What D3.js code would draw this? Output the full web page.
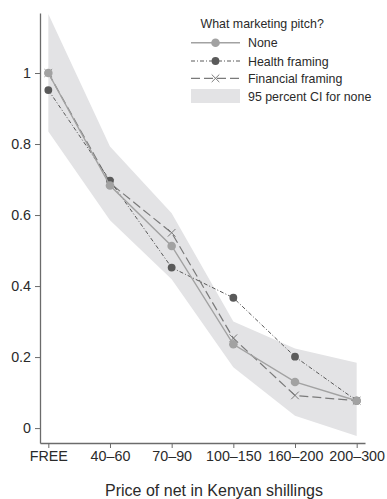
<!DOCTYPE html>
<html>
<head>
<meta charset="utf-8">
<script src="https://cdn.jsdelivr.net/npm/d3@7"></script>
<style>
  html, body { margin: 0; padding: 0; background: #fff; }
  svg { display: block; font-family: "Liberation Sans", Arial, Helvetica, sans-serif; }
</style>
</head>
<body>
<svg id="chart" width="387" height="499"></svg>
<script>
// Price categories on the x axis
const priceBands = ["FREE", "40\u201360", "70\u201390", "100\u2013150", "160\u2013200", "200\u2013300"];

// Take-up share by marketing pitch
const noneTakeup      = [1.00, 0.683, 0.513, 0.236, 0.130, 0.077];
const healthTakeup    = [0.952, 0.697, 0.452, 0.367, 0.201, 0.077];
const financialTakeup = [1.00, 0.690, 0.550, 0.253, 0.092, 0.077];

// 95 percent confidence interval for the "None" group
const ciLower = [0.835, 0.585, 0.419, 0.171, 0.035, -0.022];
const ciUpper = [1.166, 0.793, 0.605, 0.300, 0.224, 0.184];

const yTickValues = [0, 0.2, 0.4, 0.6, 0.8, 1];
const yTickLabels = ["0", "0.2", "0.4", "0.6", "0.8", "1"];

const legendTitle = "What marketing pitch?";
const seriesNames = ["None", "Health framing", "Financial framing", "95 percent CI for none"];
const xTitle = "Price of net in Kenyan shillings";

const svg = d3.select("#chart");

const x = d3.scalePoint().domain(priceBands).range([40, 365]).padding(0.135);
const y = d3.scaleLinear().domain([-0.042, 1.169]).range([443, 13]);

const axisColor = "#6b6b6b";
const textColor = "#2a2a2a";

// Confidence band
const bandData = priceBands.map((c, i) => ({ c, lo: ciLower[i], hi: ciUpper[i] }));
svg.append("path")
  .datum(bandData)
  .attr("fill", "#e3e3e5")
  .attr("d", d3.area().x(d => x(d.c)).y0(d => y(d.lo)).y1(d => y(d.hi)));

// Series definitions
const series = [
  { name: seriesNames[0], values: noneTakeup, stroke: "#a2a2a2", width: 1.4, dash: null, marker: "circle", mfill: "#a2a2a2", r: 4.3 },
  { name: seriesNames[1], values: healthTakeup, stroke: "#5a5a5a", width: 1.0, dash: "4,2,1,2", marker: "circle", mfill: "#5a5a5a", r: 3.9 },
  { name: seriesNames[2], values: financialTakeup, stroke: "#7a7a7a", width: 1.2, dash: "9,4", marker: "x", mfill: "none", r: 3.8 }
];

const line = d3.line().x(d => x(d.c)).y(d => y(d.v));

function drawMarker(g, s, cx, cy) {
  if (s.marker === "circle") {
    g.append("circle").attr("cx", cx).attr("cy", cy).attr("r", s.r).attr("fill", s.mfill);
  } else {
    g.append("path")
      .attr("d", `M${cx - s.r},${cy - s.r}L${cx + s.r},${cy + s.r}M${cx - s.r},${cy + s.r}L${cx + s.r},${cy - s.r}`)
      .attr("stroke", s.stroke).attr("stroke-width", 1).attr("fill", "none");
  }
}

// Draw in reverse so "None" sits on top
[series[2], series[1], series[0]].forEach(s => {
  const pts = priceBands.map((c, i) => ({ c, v: s.values[i] }));
  const g = svg.append("g");
  g.append("path").datum(pts)
    .attr("fill", "none").attr("stroke", s.stroke).attr("stroke-width", s.width)
    .attr("stroke-dasharray", s.dash).attr("d", line);
  pts.forEach(p => drawMarker(g, s, x(p.c), y(p.v)));
});

// Y axis
const yAxis = svg.append("g").attr("transform", "translate(40,0)")
  .call(d3.axisLeft(y).tickValues(yTickValues).tickFormat((d, i) => yTickLabels[i]).tickSize(5).tickSizeOuter(0).tickPadding(4));
// X axis
const xAxis = svg.append("g").attr("transform", "translate(0,443)")
  .call(d3.axisBottom(x).tickSize(5).tickSizeOuter(0).tickPadding(3));

[yAxis, xAxis].forEach(a => {
  a.select(".domain").attr("stroke", axisColor).attr("stroke-width", 1.3);
  a.selectAll(".tick line").attr("stroke", axisColor).attr("stroke-width", 1);
  a.selectAll(".tick text").attr("fill", textColor).attr("font-size", 14.3)
    .attr("font-family", "'Liberation Sans', Arial, sans-serif");
});

// X axis title
svg.append("text")
  .attr("x", 214).attr("y", 495.5)
  .attr("text-anchor", "middle")
  .attr("font-size", 16)
  .attr("fill", textColor)
  .text(xTitle);

// Legend
const lg = svg.append("g");
lg.append("text").attr("x", 200.5).attr("y", 27.5).attr("font-size", 12.4).attr("fill", textColor).text(legendTitle);
const rowY = [42.7, 61, 78.3, 96];
const lx0 = 191, lx1 = 240, ltx = 248;
series.forEach((s, i) => {
  lg.append("line").attr("x1", lx0).attr("x2", lx1).attr("y1", rowY[i]).attr("y2", rowY[i])
    .attr("stroke", s.stroke).attr("stroke-width", s.width).attr("stroke-dasharray", s.dash);
  drawMarker(lg, s, (lx0 + lx1) / 2, rowY[i]);
  lg.append("text").attr("x", ltx).attr("y", rowY[i] + 4.5).attr("font-size", 12.4).attr("fill", textColor).text(s.name);
});
lg.append("rect").attr("x", lx0).attr("y", 89).attr("width", lx1 - lx0).attr("height", 14).attr("fill", "#e3e3e5");
lg.append("text").attr("x", ltx).attr("y", rowY[3] + 4.5).attr("font-size", 12.4).attr("fill", textColor).text(seriesNames[3]);
</script>
</body>
</html>
